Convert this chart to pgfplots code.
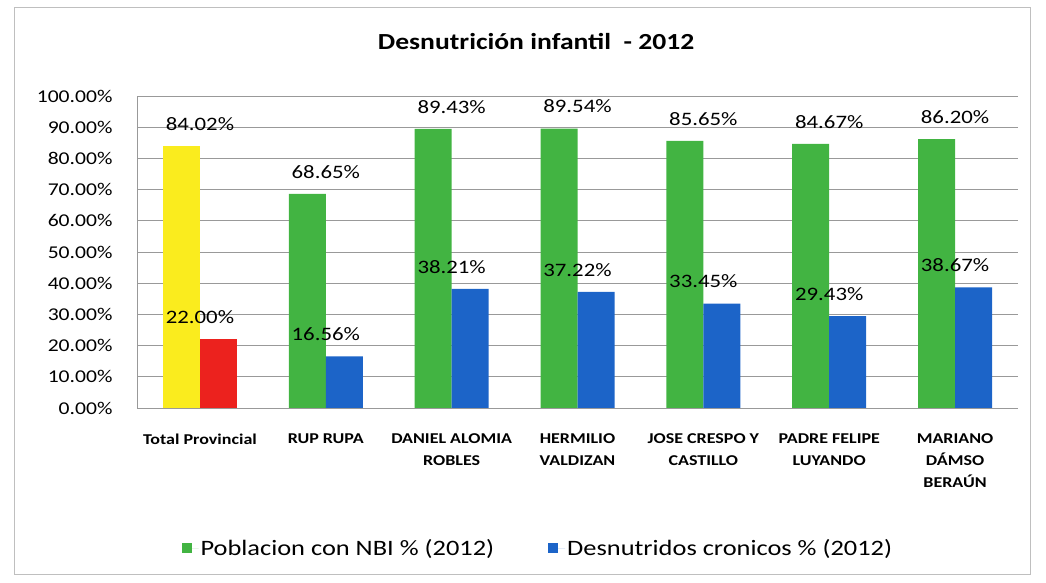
\documentclass[border=0pt]{standalone}
\usepackage{pgfplots}
\pgfplotsset{compat=1.18}
\usepackage{fontspec}
\setmainfont{Carlito}[FakeStretch=1.2]
\definecolor{nbigreen}{RGB}{66,180,66}
\definecolor{desblue}{RGB}{28,100,200}
\definecolor{totyellow}{RGB}{250,236,30}
\definecolor{totred}{RGB}{236,34,30}
\begin{document}
\begin{tikzpicture}[x=1pt,y=1pt]
\useasboundingbox (0,0) rectangle (1046,583);
\draw[gray!50, line width=1pt] (14,8) rectangle (1030,575);
\begin{axis}[
  at={(137pt,175pt)}, anchor=south west,
  scale only axis, width=881pt, height=312pt,
  xmin=-0.5, xmax=6.5, ymin=0, ymax=100,
  axis x line*=bottom, axis y line*=left,
  axis line style={gray!80},
  ytick={0,10,...,100},
  ymajorgrids, major grid style={gray!80, line width=0.8pt},
  major tick length=0pt,
  yticklabel={\pgfmathprintnumber[fixed,fixed zerofill,precision=2,assume math mode=true]{\tick}\%},
  yticklabel style={font=\fontsize{18}{20}\selectfont, xshift=-21pt},
  xtick={0,...,6},
  xticklabels={Total Provincial, RUP RUPA, DANIEL ALOMIA\\ROBLES, HERMILIO\\VALDIZAN, JOSE CRESPO Y\\CASTILLO, PADRE FELIPE\\LUYANDO, MARIANO\\DÁMSO\\BERAÚN},
  xticklabel style={font=\bfseries\fontsize{15}{22}\selectfont, align=center, yshift=-22pt},
  nodes near coords={\pgfmathprintnumber[fixed,fixed zerofill,precision=2,assume math mode=true]{\pgfplotspointmeta}\%},
  every node near coord/.append style={font=\fontsize{19}{20}\selectfont, black, yshift=12pt},
  title={Desnutrición infantil \ - 2012},
  title style={at={(0.453,1)}, anchor=center, yshift=48pt, font=\bfseries\fontsize{23}{26}\selectfont},
  legend style={at={(0.455,-0.449)}, anchor=center, draw=none, legend columns=2,
    font=\fontsize{22}{24}\selectfont,
    /tikz/every even column/.append style={column sep=52pt}},
  legend image code/.code={\fill[#1] (0pt,-5pt) rectangle (10pt,5pt); \path (10pt,0pt) -- (17pt,0pt);},
]
\addplot[ybar, bar width=0.294, bar shift=-0.147, fill=nbigreen, draw=none]
  coordinates {(1,68.65)(2,89.43)(3,89.54)(4,85.65)(5,84.67)(6,86.20)};
\addplot[ybar, bar width=0.294, bar shift=0.147, fill=desblue, draw=none]
  coordinates {(1,16.56)(2,38.21)(3,37.22)(4,33.45)(5,29.43)(6,38.67)};
\addplot[ybar, bar width=0.294, bar shift=-0.147, fill=totyellow, draw=none, forget plot]
  coordinates {(0,84.02)};
\addplot[ybar, bar width=0.294, bar shift=0.147, fill=totred, draw=none, forget plot]
  coordinates {(0,22.00)};
\legend{Poblacion con NBI \% (2012), Desnutridos cronicos \% (2012)}
\end{axis}
\end{tikzpicture}
\end{document}
